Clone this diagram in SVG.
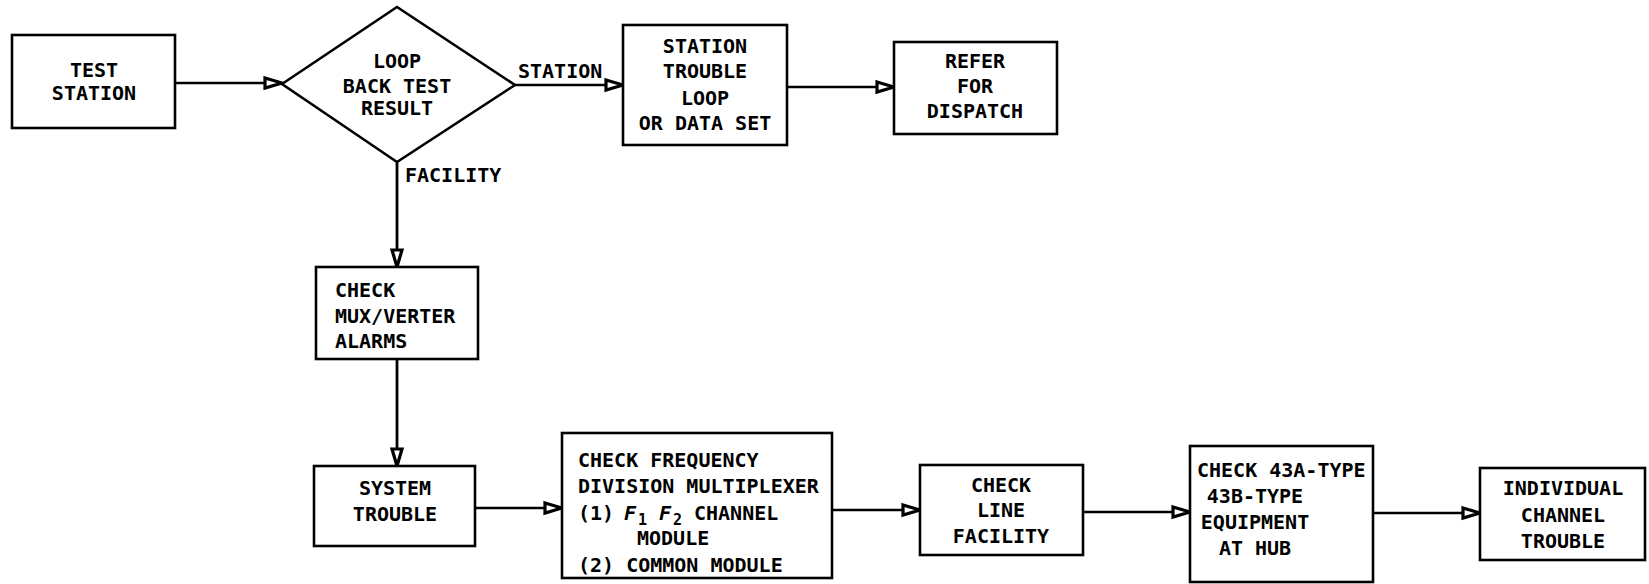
<svg xmlns="http://www.w3.org/2000/svg" width="1649" height="584" viewBox="0 0 1649 584">
<style>
.box{fill:#fff;stroke:#000;stroke-width:2.6}
.t{font-family:"DejaVu Sans Mono","Liberation Mono",monospace;font-weight:bold;font-size:20px;fill:#000}
.c{text-anchor:middle}
.ln{fill:none;stroke:#000;stroke-width:2.4}
.lv{fill:none;stroke:#000;stroke-width:2.8}
.sub{font-size:15px}
</style>
<defs>
<marker id="ah" markerUnits="userSpaceOnUse" viewBox="-2 -8 22 16" markerWidth="22" markerHeight="16" refX="18" refY="0" orient="auto">
<path d="M1,-5 L18,0 L1,5 Z" fill="#fff" stroke="#000" stroke-width="3.2" stroke-linejoin="miter"/>
</marker>
</defs>
<rect width="1649" height="584" fill="#fff"/>
<g id="connectors">
<line class="ln" x1="175" y1="83" x2="282" y2="83" marker-end="url(#ah)"/>
<line class="ln" x1="515" y1="85" x2="623" y2="85" marker-end="url(#ah)"/>
<line class="ln" x1="787" y1="87" x2="894" y2="87" marker-end="url(#ah)"/>
<line class="lv" x1="397" y1="162" x2="397" y2="267" marker-end="url(#ah)"/>
<line class="lv" x1="397" y1="359" x2="397" y2="466" marker-end="url(#ah)"/>
<line class="ln" x1="475" y1="508" x2="562" y2="508" marker-end="url(#ah)"/>
<line class="ln" x1="832" y1="510" x2="920" y2="510" marker-end="url(#ah)"/>
<line class="ln" x1="1083" y1="512" x2="1190" y2="512" marker-end="url(#ah)"/>
<line class="ln" x1="1373" y1="513" x2="1480" y2="513" marker-end="url(#ah)"/>
<text class="t" x="518" y="78">STATION</text>
<text class="t" x="405" y="182">FACILITY</text>
</g>
<g id="test-station">
<rect class="box" x="12" y="35" width="163" height="93"/>
<text class="t c" x="94" y="77">TEST</text>
<text class="t c" x="94" y="100">STATION</text>
</g>
<g id="loop-back-test">
<polygon class="box" points="282,84 397,7 515,85 397,162"/>
<text class="t c" x="397" y="68">LOOP</text>
<text class="t c" x="397" y="93">BACK TEST</text>
<text class="t c" x="397" y="115">RESULT</text>
</g>
<g id="station-trouble">
<rect class="box" x="623" y="25" width="164" height="120"/>
<text class="t c" x="705" y="53">STATION</text>
<text class="t c" x="705" y="78">TROUBLE</text>
<text class="t c" x="705" y="105">LOOP</text>
<text class="t c" x="705" y="130">OR DATA SET</text>
</g>
<g id="refer-dispatch">
<rect class="box" x="894" y="42" width="163" height="92"/>
<text class="t c" x="975" y="68">REFER</text>
<text class="t c" x="975" y="93">FOR</text>
<text class="t c" x="975" y="118">DISPATCH</text>
</g>
<g id="check-mux">
<rect class="box" x="316" y="267" width="162" height="92"/>
<text class="t" x="335" y="297">CHECK</text>
<text class="t" x="335" y="323">MUX/VERTER</text>
<text class="t" x="335" y="348">ALARMS</text>
</g>
<g id="system-trouble">
<rect class="box" x="314" y="466" width="161" height="80"/>
<text class="t c" x="395" y="495">SYSTEM</text>
<text class="t c" x="395" y="521">TROUBLE</text>
</g>
<g id="check-fdm">
<rect class="box" x="562" y="433" width="270" height="145"/>
<text class="t" x="578" y="467">CHECK FREQUENCY</text>
<text class="t" x="578" y="493">DIVISION MULTIPLEXER</text>
<text class="t" x="578" y="520">(1) <tspan x="624" font-style="italic">F</tspan><tspan class="sub" x="638" dy="5">1</tspan><tspan x="659" dy="-5" font-style="italic">F</tspan><tspan class="sub" x="673" dy="5">2</tspan><tspan x="694" dy="-5">CHANNEL</tspan></text>
<text class="t" x="637" y="545">MODULE</text>
<text class="t" x="578" y="572">(2) COMMON MODULE</text>
</g>
<g id="check-line">
<rect class="box" x="920" y="465" width="163" height="90"/>
<text class="t c" x="1001" y="492">CHECK</text>
<text class="t c" x="1001" y="517">LINE</text>
<text class="t c" x="1001" y="543">FACILITY</text>
</g>
<g id="check-43a">
<rect class="box" x="1190" y="446" width="183" height="136"/>
<text class="t" x="1197" y="477">CHECK 43A-TYPE</text>
<text class="t c" x="1255" y="503">43B-TYPE</text>
<text class="t c" x="1255" y="529">EQUIPMENT</text>
<text class="t c" x="1255" y="555">AT HUB</text>
</g>
<g id="individual-channel">
<rect class="box" x="1480" y="468" width="165" height="92"/>
<text class="t c" x="1563" y="495">INDIVIDUAL</text>
<text class="t c" x="1563" y="522">CHANNEL</text>
<text class="t c" x="1563" y="548">TROUBLE</text>
</g>
</svg>
